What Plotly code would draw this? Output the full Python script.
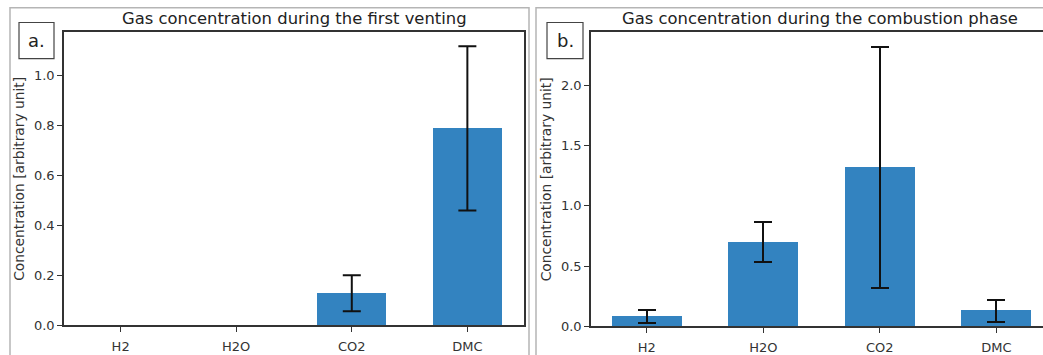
import plotly.graph_objects as go

W, H = 1043, 355

categories = ["H2", "H2O", "CO2", "DMC"]
venting_values = [0.0, 0.0, 0.129, 0.788]
venting_errors = [0.0, 0.0, 0.072, 0.328]
combustion_values = [0.083, 0.698, 1.316, 0.131]
combustion_errors = [0.057, 0.166, 1.0, 0.09]

title_a = "Gas concentration during the first venting"
title_b = "Gas concentration during the combustion phase"
ylabel = "Concentration [arbitrary unit]"

BAR = "#3383c0"
FONT = "DejaVu Sans, Verdana, sans-serif"

def px_x(p):
    return p / W

def px_y(p):
    return 1 - p / H

fig = go.Figure()

# panel a: bars, then error bars only where an error exists (zero-error caps hidden)
fig.add_trace(go.Bar(
    x=categories, y=venting_values, width=0.6, marker=dict(color=BAR, line=dict(width=0)),
    xaxis="x", yaxis="y", showlegend=False,
))
err_idx = [i for i, e in enumerate(venting_errors) if e > 0]
fig.add_trace(go.Scatter(
    x=[categories[i] for i in err_idx], y=[venting_values[i] for i in err_idx],
    mode="markers", marker=dict(size=1, opacity=0),
    error_y=dict(type="data", array=[venting_errors[i] for i in err_idx],
                 color="#111111", thickness=2, width=9),
    xaxis="x", yaxis="y", showlegend=False, hoverinfo="skip",
))
fig.add_trace(go.Bar(
    x=categories, y=combustion_values, width=0.6, marker=dict(color=BAR, line=dict(width=0)),
    error_y=dict(type="data", array=combustion_errors, color="#111111", thickness=2, width=9),
    xaxis="x2", yaxis="y2", showlegend=False,
))

axis_common = dict(
    showline=True, linecolor="#333333", linewidth=1.5,
    ticks="outside", ticklen=5, tickwidth=1.2, tickcolor="#333333",
    tickfont=dict(family=FONT, size=13, color="#333333"),
    showgrid=False, zeroline=False,
)
ytitle_font = dict(family=FONT, size=13.8, color="#333333")

fig.update_layout(
    width=W, height=H,
    margin=dict(l=0, r=0, t=0, b=0),
    paper_bgcolor="white", plot_bgcolor="white",
    font=dict(family=FONT, color="#333333"),
    bargap=0,
    xaxis=dict(domain=[px_x(64), px_x(524)], range=[-0.49, 3.49], anchor="y",
               mirror=True, type="category", ticklabelstandoff=3, **axis_common),
    yaxis=dict(domain=[px_y(333), px_y(33)], range=[0, 1.172], anchor="x",
               mirror=True, tickvals=[0, 0.2, 0.4, 0.6, 0.8, 1.0],
               ticktext=["0.0", "0.2", "0.4", "0.6", "0.8", "1.0"],
               title=dict(text=ylabel, font=ytitle_font, standoff=6),
               **axis_common),
    xaxis2=dict(domain=[px_x(591), 1.0], range=[-0.478, 3.40], anchor="y2",
                mirror=True, type="category", ticklabelstandoff=3, **axis_common),
    yaxis2=dict(domain=[px_y(334), px_y(33)], range=[0, 2.437], anchor="x2",
                mirror=False, tickvals=[0, 0.5, 1.0, 1.5, 2.0],
                ticktext=["0.0", "0.5", "1.0", "1.5", "2.0"],
                title=dict(text=ylabel, font=ytitle_font, standoff=6),
                **axis_common),
)

shapes = [
    # outer panel frames
    dict(type="rect", xref="paper", yref="paper", x0=px_x(10), x1=px_x(529), y0=px_y(370), y1=px_y(8),
         line=dict(color="#b5b5b5", width=1.5), fillcolor="rgba(0,0,0,0)", layer="below"),
    dict(type="rect", xref="paper", yref="paper", x0=px_x(536), x1=px_x(1060), y0=px_y(370), y1=px_y(8),
         line=dict(color="#b5b5b5", width=1.5), fillcolor="rgba(0,0,0,0)", layer="below"),
    # panel label boxes
    dict(type="rect", xref="paper", yref="paper", x0=px_x(19), x1=px_x(54), y0=px_y(60), y1=px_y(23),
         line=dict(color="#444444", width=1.2), fillcolor="white"),
    dict(type="rect", xref="paper", yref="paper", x0=px_x(547), x1=px_x(583), y0=px_y(60), y1=px_y(23),
         line=dict(color="#444444", width=1.2), fillcolor="white"),
]
fig.update_layout(shapes=shapes)

annotations = [
    dict(text=title_a, xref="paper", yref="paper", x=px_x(294), y=px_y(19), showarrow=False,
         xanchor="center", yanchor="middle", font=dict(family=FONT, size=16.4, color="#222222")),
    dict(text=title_b, xref="paper", yref="paper", x=px_x(820), y=px_y(19), showarrow=False,
         xanchor="center", yanchor="middle", font=dict(family=FONT, size=16.4, color="#222222")),
    dict(text="a.", xref="paper", yref="paper", x=px_x(36.5), y=px_y(41.5), showarrow=False,
         xanchor="center", yanchor="middle", font=dict(family=FONT, size=18, color="#222222")),
    dict(text="b.", xref="paper", yref="paper", x=px_x(565), y=px_y(41.5), showarrow=False,
         xanchor="center", yanchor="middle", font=dict(family=FONT, size=18, color="#222222")),
]
fig.update_layout(annotations=annotations)

fig.write_html("out.html")
